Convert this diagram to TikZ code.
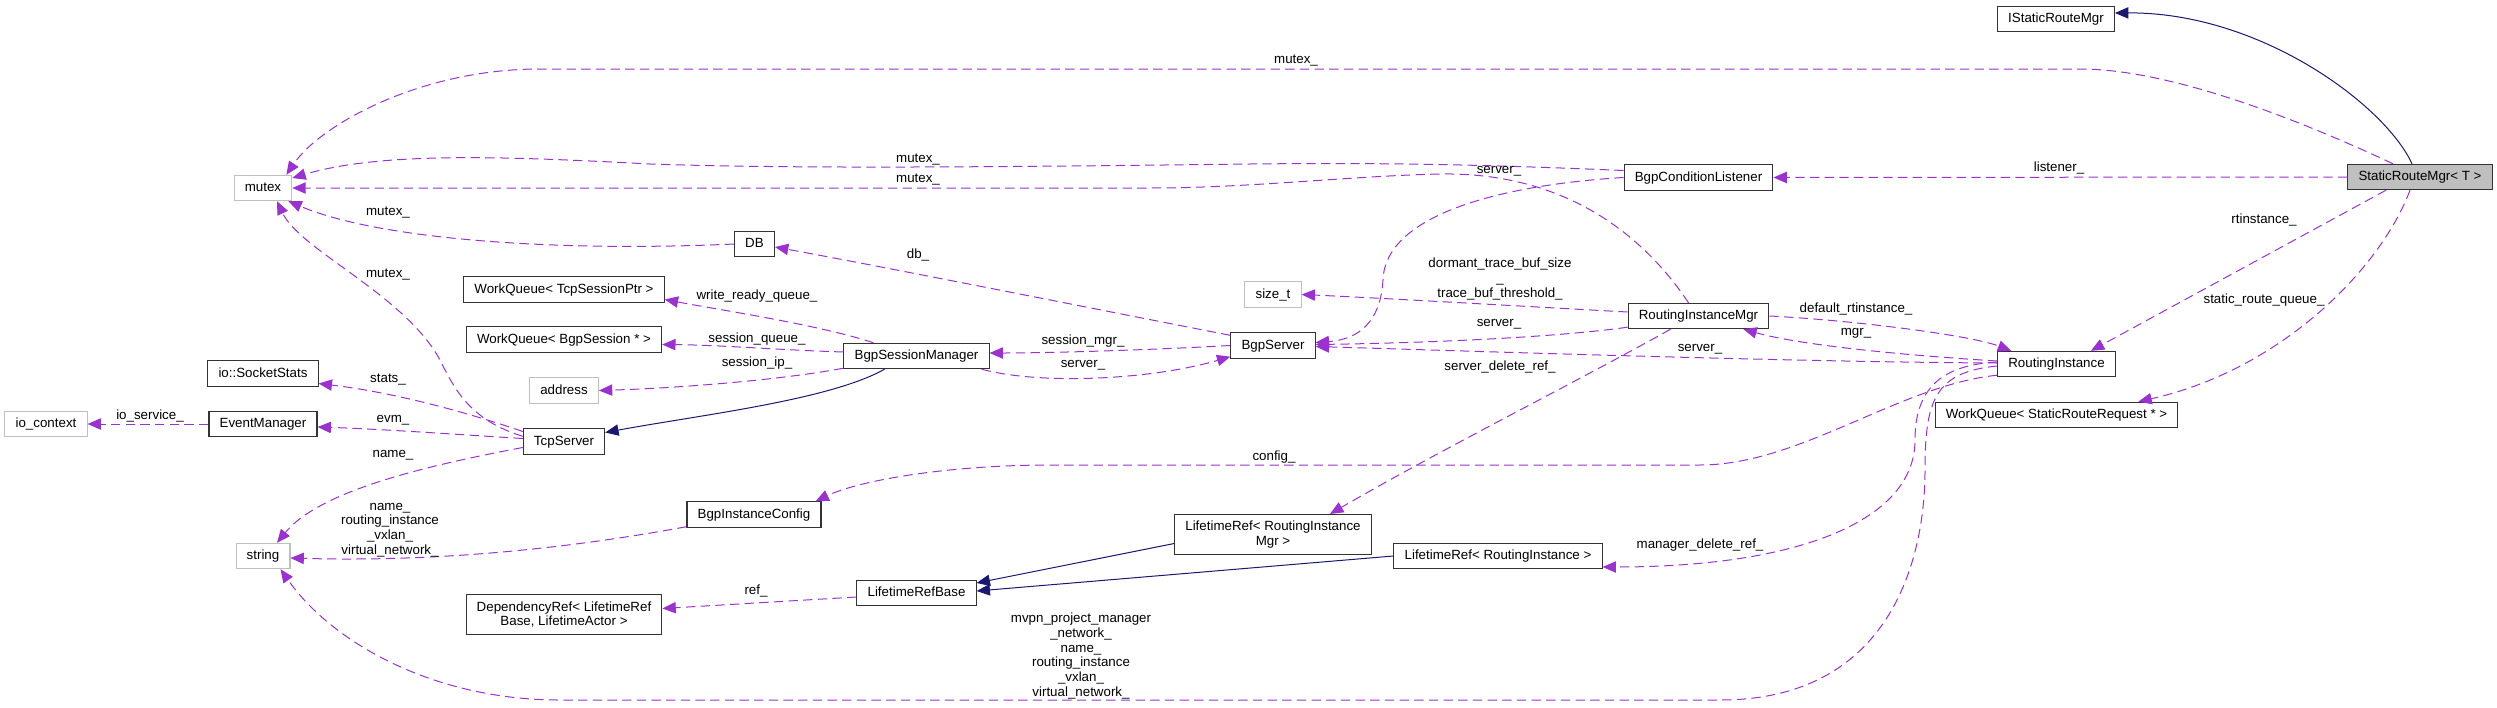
\documentclass[tikz,border=0pt]{standalone}
\usepackage{fontspec}
\setmainfont{Liberation Sans}
\usepackage{tikz}
\usetikzlibrary{arrows.meta,calc}
\definecolor{memcolor}{HTML}{9A32CD}
\definecolor{inhcolor}{HTML}{191970}
\definecolor{extgray}{HTML}{BFBFBF}

\begin{document}
\begin{tikzpicture}[x=0.75pt, y=-0.75pt, font=\fontsize{10}{11}\selectfont,
  box/.style={draw=black!80, line width=0.8pt, fill=white, inner xsep=8pt, inner ysep=0pt, align=center},
  cls/.style={box, minimum height=19pt, text height=7.5pt, text depth=2.2pt},
  cls2/.style={box, minimum height=30pt},
  ext/.style={cls, draw=extgray},
  mem/.style={draw=memcolor, line width=0.75pt, dash pattern=on 7pt off 4pt, -{Triangle[length=10pt,width=8.5pt]}},
  inh/.style={draw=inhcolor, line width=0.75pt, -{Triangle[length=10pt,width=8.5pt]}},
  lbl/.style={inner sep=0pt, align=center}]
\useasboundingbox (0,0) rectangle (2497,707);

\node[cls] (iface) at (2056,19) {IStaticRouteMgr};
\node[cls, fill=extgray] (srm) at (2420,177) {StaticRouteMgr< T >};
\node[ext] (mutex) at (263,188) {mutex};
\node[cls] (wqTcp) at (564,289.5) {WorkQueue< TcpSessionPtr >};
\node[cls] (wqSess) at (564,339.5) {WorkQueue< BgpSession * >};
\node[cls] (sockStats) at (263,373.5) {io::SocketStats};
\node[ext] (address) at (564,390.5) {address};
\node[ext] (ioCtx) at (46,424) {io\_context};
\node[cls] (evMgr) at (263,424) {EventManager};
\node[cls] (tcpServer) at (564,441.5) {TcpServer};
\node[ext] (string) at (263,556) {string};
\node[cls2] (depRef) at (564,614.5) {DependencyRef< LifetimeRef\\Base, LifetimeActor >};
\node[cls] (db) at (754.5,244) {DB};
\node[cls] (sessMgr) at (916.5,356) {BgpSessionManager};
\node[cls] (bgpServer) at (1273,345.5) {BgpServer};
\node[ext] (sizeT) at (1273,294.5) {size\_t};
\node[cls] (instCfg) at (754,514.5) {BgpInstanceConfig};
\node[cls] (refBase) at (916.5,593) {LifetimeRefBase};
\node[cls2] (refRim) at (1273,534.5) {LifetimeRef< RoutingInstance\\Mgr >};
\node[cls] (refRi) at (1498,556) {LifetimeRef< RoutingInstance >};
\node[cls] (condListener) at (1698.5,177.5) {BgpConditionListener};
\node[cls] (rim) at (1698.5,316) {RoutingInstanceMgr};
\node[cls] (ri) at (2056.5,364) {RoutingInstance};
\node[cls] (wqStatic) at (2056.5,414.8) {WorkQueue< StaticRouteRequest * >};

\draw[inh] ($(srm.north)+(-8,0)$) .. controls (2385,105) and (2260,12) .. ($(iface.east)+(0,-6)$);
\draw[mem] ($(srm.north)+(-27,0)$) .. controls (2300,120) and (2170,69) .. (2080,69) -- (540,69) .. controls (420,69) and (320,125) .. ($(mutex.north east)+(-6,0)$);
\node[lbl] at (1296,61) {mutex\_};
\draw[mem] (srm.west) -- (condListener.east);
\node[lbl] at (2059,168) {listener\_};
\draw[mem] ($(srm.south)+(-34,0)$) -- ($(ri.north east)+(-25,0)$);
\node[lbl] at (2264,220) {rtinstance\_};
\draw[mem] ($(srm.south)+(-10,0)$) .. controls (2380,270) and (2280,370) .. ($(wqStatic.north east)+(-40,0)$);
\node[lbl] at (2264,300) {static\_route\_queue\_};

\draw[mem] ($(condListener.west)+(0,-7)$) .. controls (1450,163) and (1350,163) .. (1250,164) .. controls (1000,167) and (800,169) .. (650,164) .. controls (500,156) and (380,152) .. ($(mutex.east)+(0,-10)$);
\node[lbl] at (918,160) {mutex\_};
\draw[mem] (condListener.west) .. controls (1500,185) and (1385,215) .. (1383,280) .. controls (1380,330) and (1350,340) .. ($(bgpServer.east)+(0,-3)$);
\node[lbl] at (1499,171) {server\_};

\draw[mem] ($(rim.north)+(-10,0)$) .. controls (1640,230) and (1560,172) .. (1440,174) .. controls (1350,176) and (1250,188) .. (1150,188) -- (mutex.east);
\node[lbl] at (918,180) {mutex\_};
\draw[mem] ($(rim.west)+(0,-4)$) .. controls (1500,305) and (1380,298) .. (sizeT.east);
\node[lbl] at (1500,279) {dormant\_trace\_buf\_size\\\_\\trace\_buf\_threshold\_};
\draw[mem] ($(rim.south west)+(0,-2)$) .. controls (1550,338) and (1420,343) .. ($(bgpServer.east)+(0,-1)$);
\node[lbl] at (1499,324) {server\_};
\draw[mem] ($(rim.south)+(-28,0)$) .. controls (1580,380) and (1440,450) .. ($(refRim.north)+(57,0)$);
\node[lbl] at (1500,367) {server\_delete\_ref\_};
\draw[mem] (rim.east) .. controls (1850,320) and (1970,335) .. ($(ri.north west)+(14,0)$);
\node[lbl] at (1856,309) {default\_rtinstance\_};

\draw[mem] ($(ri.west)+(0,-3)$) .. controls (1900,355) and (1800,345) .. ($(rim.south east)+(-26,0)$);
\node[lbl] at (1856,333) {mgr\_};
\draw[mem] ($(ri.west)+(0,-1)$) .. controls (1800,362) and (1500,352) .. ($(bgpServer.east)+(0,1)$);
\node[lbl] at (1700,349) {server\_};
\draw[mem] ($(ri.west)+(0,-2)$) .. controls (1940,365) and (1915,390) .. (1915,440) .. controls (1915,520) and (1800,567) .. ($(refRi.east)+(0,11)$);
\node[lbl] at (1700,545) {manager\_delete\_ref\_};
\draw[mem] ($(ri.west)+(0,2)$) .. controls (1935,372) and (1925,400) .. (1925,470) .. controls (1925,560) and (1890,700) .. (1720,700) -- (560,700) .. controls (430,700) and (330,640) .. ($(string.south east)+(-10,0)$);
\node[lbl] at (1081,656) {mvpn\_project\_manager\\\_network\_\\name\_\\routing\_instance\hspace*{33pt}\\\_vxlan\_\\virtual\_network\_};
\draw[mem] ($(ri.south west)+(0,-2)$) .. controls (1900,385) and (1800,465) .. (1700,465) -- (1050,465) .. controls (950,465) and (860,480) .. ($(instCfg.north east)+(-6,0)$);
\node[lbl] at (1274,457) {config\_};

\draw[mem] ($(bgpServer.north west)+(0,3)$) .. controls (1100,310) and (900,270) .. ($(db.east)+(0,3)$);
\node[lbl] at (918,255) {db\_};
\draw[mem] (bgpServer.west) .. controls (1150,350) and (1050,353) .. ($(sessMgr.east)+(0,-3)$);
\node[lbl] at (1083,341) {session\_mgr\_};
\draw[mem] ($(sessMgr.south east)+(-8,0)$) .. controls (1040,385) and (1150,380) .. ($(bgpServer.south west)+(0,-2)$);
\node[lbl] at (1083,365) {server\_};
\draw[mem] ($(sessMgr.north)+(-43,0)$) .. controls (820,325) and (720,310) .. ($(wqTcp.east)+(0,10)$);
\node[lbl] at (757,296) {write\_ready\_queue\_};
\draw[mem] ($(sessMgr.west)+(0,-4)$) .. controls (780,350) and (720,345) .. ($(wqSess.east)+(0,5)$);
\node[lbl] at (757,339) {session\_queue\_};
\draw[mem] ($(sessMgr.south west)+(0,-1)$) .. controls (780,380) and (680,388) .. (address.east);
\node[lbl] at (757,363) {session\_ip\_};
\draw[inh] ($(sessMgr.south)+(-32,0)$) .. controls (830,400) and (700,415) .. ($(tcpServer.east)+(0,-9)$);

\draw[mem] (db.west) .. controls (560,252) and (380,240) .. ($(mutex.south east)+(-4,0)$);
\node[lbl] at (388,213) {mutex\_};
\draw[mem] ($(tcpServer.north west)+(0,8)$) .. controls (470,420) and (455,390) .. (440,360) .. controls (405,295) and (300,250) .. ($(mutex.south)+(14,0)$);
\node[lbl] at (388,275) {mutex\_};
\draw[mem] ($(tcpServer.west)+(0,-10)$) .. controls (460,410) and (390,392) .. ($(sockStats.east)+(0,10)$);
\node[lbl] at (388,380) {stats\_};
\draw[mem] ($(tcpServer.west)+(0,-3)$) .. controls (450,434) and (380,429) .. ($(evMgr.east)+(0,3)$);
\node[lbl] at (393,420) {evm\_};
\draw[mem] (evMgr.west) -- (ioCtx.east);
\node[lbl] at (150,416) {io\_service\_};
\draw[mem] ($(tcpServer.west)+(0,6)$) .. controls (430,465) and (320,490) .. ($(string.north)+(14,0)$);
\node[lbl] at (393,455) {name\_};
\draw[mem] ($(instCfg.south west)+(0,-1)$) .. controls (560,550) and (430,562) .. ($(string.east)+(0,2)$);
\node[lbl] at (390,530) {name\_\\routing\_instance\\\_vxlan\_\\virtual\_network\_};

\draw[inh] ($(refRim.west)+(0,9)$) -- ($(refBase.east)+(0,-10)$);
\draw[inh] (refRi.west) -- ($(refBase.east)+(0,-2)$);
\draw[mem] ($(refBase.west)+(0,4)$) -- ($(depRef.east)+(0,-6)$);
\node[lbl] at (756,591) {ref\_};
\end{tikzpicture}
\end{document}
